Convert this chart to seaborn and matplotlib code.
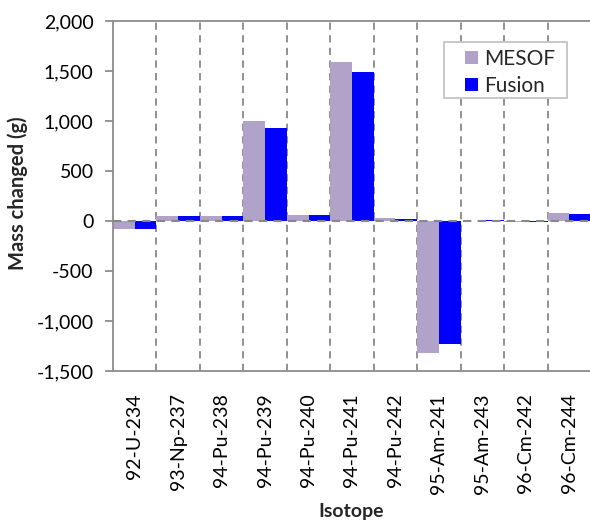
import numpy as np
import pandas as pd
import matplotlib
matplotlib.use("Agg")
import matplotlib.pyplot as plt
from matplotlib.patches import Rectangle
import seaborn as sns

# Isotopes and mass changes (g) for each code
isotopes = ["92-U-234", "93-Np-237", "94-Pu-238", "94-Pu-239", "94-Pu-240",
            "94-Pu-241", "94-Pu-242", "95-Am-241", "95-Am-243", "96-Cm-242",
            "96-Cm-244"]
mesof = [-75, 55, 55, 1005, 65, 1595, 30, -1315, 5, -5, 85]
fusion = [-75, 55, 55, 935, 65, 1495, 25, -1230, 8, -10, 75]
series_names = ["MESOF", "Fusion"]
y_ticks = [-1500, -1000, -500, 0, 500, 1000, 1500, 2000]

df = pd.DataFrame({
    "Isotope": isotopes * 2,
    "Mass": mesof + fusion,
    "Code": [series_names[0]] * len(isotopes) + [series_names[1]] * len(isotopes),
})

sns.set_theme(style="white")
plt.rcParams["font.family"] = ["Lato", "DejaVu Sans"]
FS = 14

W, H = 590, 522
fig = plt.figure(figsize=(W / 100, H / 100), dpi=100)
ax = fig.add_axes([113 / W, 1 - 371 / H, 478 / W, 350 / H])

palette = {"MESOF": "#b0a2c8", "Fusion": "#0000ff"}
sns.barplot(data=df, x="Isotope", y="Mass", hue="Code", order=isotopes,
            hue_order=series_names, palette=palette, width=1.0, gap=0,
            saturation=1, linewidth=0, ax=ax, zorder=2)

n = len(isotopes)
ax.set_xlim(-0.5, n - 0.5)
ax.set_ylim(-1500, 2000)
ax.set_yticks(y_ticks)
ax.set_yticklabels([f"{v:,}" for v in y_ticks], fontsize=FS, color="black")
ax.set_xticks(range(n))
ax.set_xticklabels(isotopes, rotation=90, fontsize=FS, color="black")

# category separators and the dashed zero line
grid_color = "#888888"
for k in range(1, n):
    ax.axvline(k - 0.5, color=grid_color, lw=1.3, ls=(0, (4, 3)), zorder=1)
ax.axhline(0, color=grid_color, lw=1.5, ls=(0, (4, 3)), zorder=3)

for side in ["top", "bottom", "left"]:
    ax.spines[side].set_color("#8c8c8c")
    ax.spines[side].set_linewidth(1.3)
ax.spines["right"].set_visible(False)

ax.tick_params(axis="y", which="major", left=True, length=6, width=1.3,
               color="#8c8c8c", pad=8)
ax.tick_params(axis="x", which="major", bottom=False, pad=10)

ax.set_xlabel("")
ax.set_ylabel("")
fig.text(351 / W, 1 - 512 / H, "Isotope", fontsize=FS, fontweight="bold",
         ha="center", va="center")
fig.text(18 / W, 1 - 193 / H, "Mass changed (g)", fontsize=14.5,
         fontweight="bold", ha="center", va="center", rotation=90)

# legend frame drawn separately to get the wide side margins
ax.add_patch(Rectangle((444 / W, 1 - 98 / H), 123 / W, 56 / H,
                       transform=fig.transFigure, facecolor="white",
                       edgecolor="#c4c4c4", linewidth=1.3, zorder=4,
                       clip_on=False))
leg = ax.legend(loc="upper left", bbox_to_anchor=(465 / W, 1 - 49 / H),
                bbox_transform=fig.transFigure, frameon=False, fontsize=15,
                handlelength=0.6, handleheight=0.6, handletextpad=0.3,
                borderpad=0, borderaxespad=0, labelspacing=0.32)
leg.set_title(None)
leg.set_zorder(5)

fig.savefig("out.png", dpi=100)
